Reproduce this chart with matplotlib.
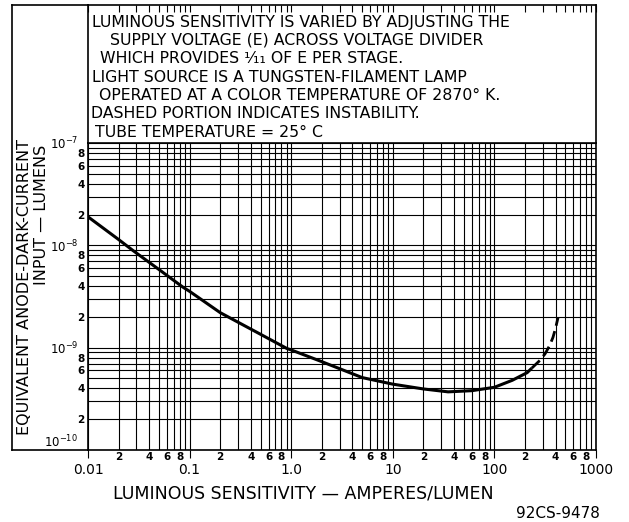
import matplotlib
matplotlib.use('Agg')

import matplotlib.pyplot as plt
from matplotlib.lines import Line2D
from matplotlib.ticker import FixedLocator, FixedFormatter, NullLocator

# curve (luminous sensitivity A/lm, dark-current input lm)
sens_solid = [0.01, 0.02, 0.0277, 0.05, 0.086, 0.1, 0.2, 0.5, 0.91, 1.0, 2.0, 5.0,
              10, 20, 35, 60, 100, 150, 210, 233]
dark_solid = [1.9e-8, 1.14e-8, 8.9e-9, 5.8e-9, 3.9e-9, 3.55e-9, 2.2e-9, 1.35e-9, 9.8e-10,
              9.5e-10, 7.3e-10, 5.1e-10, 4.4e-10, 3.95e-10, 3.7e-10, 3.8e-10, 4.1e-10,
              4.8e-10, 5.7e-10, 6.3e-10]
sens_dash = [233, 280, 315, 350, 377, 400, 423]
dark_dash = [6.3e-10, 7.5e-10, 8.7e-10, 1.05e-9, 1.26e-9, 1.55e-9, 1.97e-9]

x_major = [0.01, 0.1, 1.0, 10, 100, 1000]
x_major_labels = ['0.01', '0.1', '1.0', '10', '100', '1000']
y_major = [1e-10, 1e-9, 1e-8, 1e-7]
y_major_labels = [r'$\mathregular{10^{-10}}$', r'$\mathregular{10^{-9}}$',
                  r'$\mathregular{10^{-8}}$', r'$\mathregular{10^{-7}}$']
mults = [2, 3, 4, 5, 6, 7, 8, 9]
mult_labels = ['2', '', '4', '', '6', '', '8', '']

notes = [
    ('LUMINOUS SENSITIVITY IS VARIED BY ADJUSTING THE', 92),
    ('SUPPLY VOLTAGE (E) ACROSS VOLTAGE DIVIDER', 110),
    ('WHICH PROVIDES ¹⁄₁₁ OF E PER STAGE.', 100),
    ('LIGHT SOURCE IS A TUNGSTEN-FILAMENT LAMP', 92),
    ('OPERATED AT A COLOR TEMPERATURE OF 2870° K.', 99),
    ('DASHED PORTION INDICATES INSTABILITY.', 91),
    ('TUBE TEMPERATURE = 25° C', 95),
]

W, H = 629, 522
fig = plt.figure(figsize=(W / 100, H / 100), dpi=100)

def fx(px):
    return px / W

def fy(py):
    return 1 - py / H

L, R, TOP, MID, BOT = 88, 596, 5, 143, 450

ax = fig.add_axes([fx(L), fy(BOT), fx(R - L), fy(MID) - fy(BOT)])
ax.set_xscale('log')
ax.set_yscale('log')
ax.set_xlim(0.01, 1000)
ax.set_ylim(1e-10, 1e-7)

x_minor = [m * d for d in x_major[:-1] for m in mults]
y_minor = [m * d for d in y_major[:-1] for m in mults]
ax.xaxis.set_major_locator(FixedLocator(x_major))
ax.xaxis.set_major_formatter(FixedFormatter(x_major_labels))
ax.xaxis.set_minor_locator(FixedLocator(x_minor))
ax.xaxis.set_minor_formatter(FixedFormatter(mult_labels * (len(x_major) - 1)))
ax.yaxis.set_major_locator(FixedLocator(y_major))
ax.yaxis.set_major_formatter(FixedFormatter(y_major_labels))
ax.yaxis.set_minor_locator(FixedLocator(y_minor))
ax.yaxis.set_minor_formatter(FixedFormatter(mult_labels * (len(y_major) - 1)))

ax.grid(True, which='both', color='black', lw=0.8)
ax.tick_params(axis='x', which='major', length=6, width=0.8, pad=3, labelsize=10)
ax.tick_params(axis='x', which='minor', length=0, pad=1.5, labelsize=7.5)
ax.tick_params(axis='y', which='major', length=0, pad=7, labelsize=8.5)
ax.tick_params(axis='y', which='minor', length=0, pad=2.5, labelsize=7.5)
for lab in ax.xaxis.get_minorticklabels() + ax.yaxis.get_minorticklabels():
    lab.set_fontweight('bold')
for t in ax.yaxis.get_major_ticks():
    if t.get_loc() == 1e-10:
        t.label1.set_va('bottom')
for s in ax.spines.values():
    s.set_linewidth(1.2)

ax.plot(sens_solid, dark_solid, color='black', lw=2.2, solid_capstyle='butt')
ax.plot(sens_dash, dark_dash, color='black', lw=2.0, dashes=(4, 2))

# note box above the graph paper
axt = fig.add_axes([fx(L), fy(MID), fx(R - L), fy(TOP) - fy(MID)])
axt.set_xscale('log')
axt.set_xlim(0.01, 1000)
axt.set_ylim(0, 1)
axt.xaxis.set_major_locator(FixedLocator(x_major))
axt.xaxis.set_minor_locator(FixedLocator(x_minor))
axt.yaxis.set_major_locator(NullLocator())
axt.tick_params(axis='x', which='both', bottom=False, top=True, labelbottom=False,
                direction='in', length=5, width=0.8)
for s in axt.spines.values():
    s.set_linewidth(1.2)
for i, (txt, px) in enumerate(notes):
    py = 22 + 18.4 * i
    axt.text((px - L) / (R - L), (MID - py) / (MID - TOP), txt, transform=axt.transAxes,
             fontsize=11.3, va='center', ha='left')

# outer frame on the left
fig.add_artist(Line2D([fx(12), fx(L)], [fy(TOP), fy(TOP)], color='black', lw=1.2))
fig.add_artist(Line2D([fx(12), fx(12)], [fy(TOP), fy(BOT)], color='black', lw=1.2))
fig.add_artist(Line2D([fx(12), fx(L)], [fy(BOT), fy(BOT)], color='black', lw=1.2))

fig.text(fx(25), fy(287), 'EQUIVALENT ANODE-DARK-CURRENT', rotation=90,
         ha='center', va='center', fontsize=11.5)
fig.text(fx(42), fy(215), 'INPUT — LUMENS', rotation=90,
         ha='center', va='center', fontsize=11.5)
fig.text(fx(303), fy(493), 'LUMINOUS SENSITIVITY — AMPERES/LUMEN',
         ha='center', va='center', fontsize=12.5)
fig.text(fx(600), fy(513), '92CS-9478', ha='right', va='center', fontsize=11)

fig.savefig('out.png', dpi=100)
